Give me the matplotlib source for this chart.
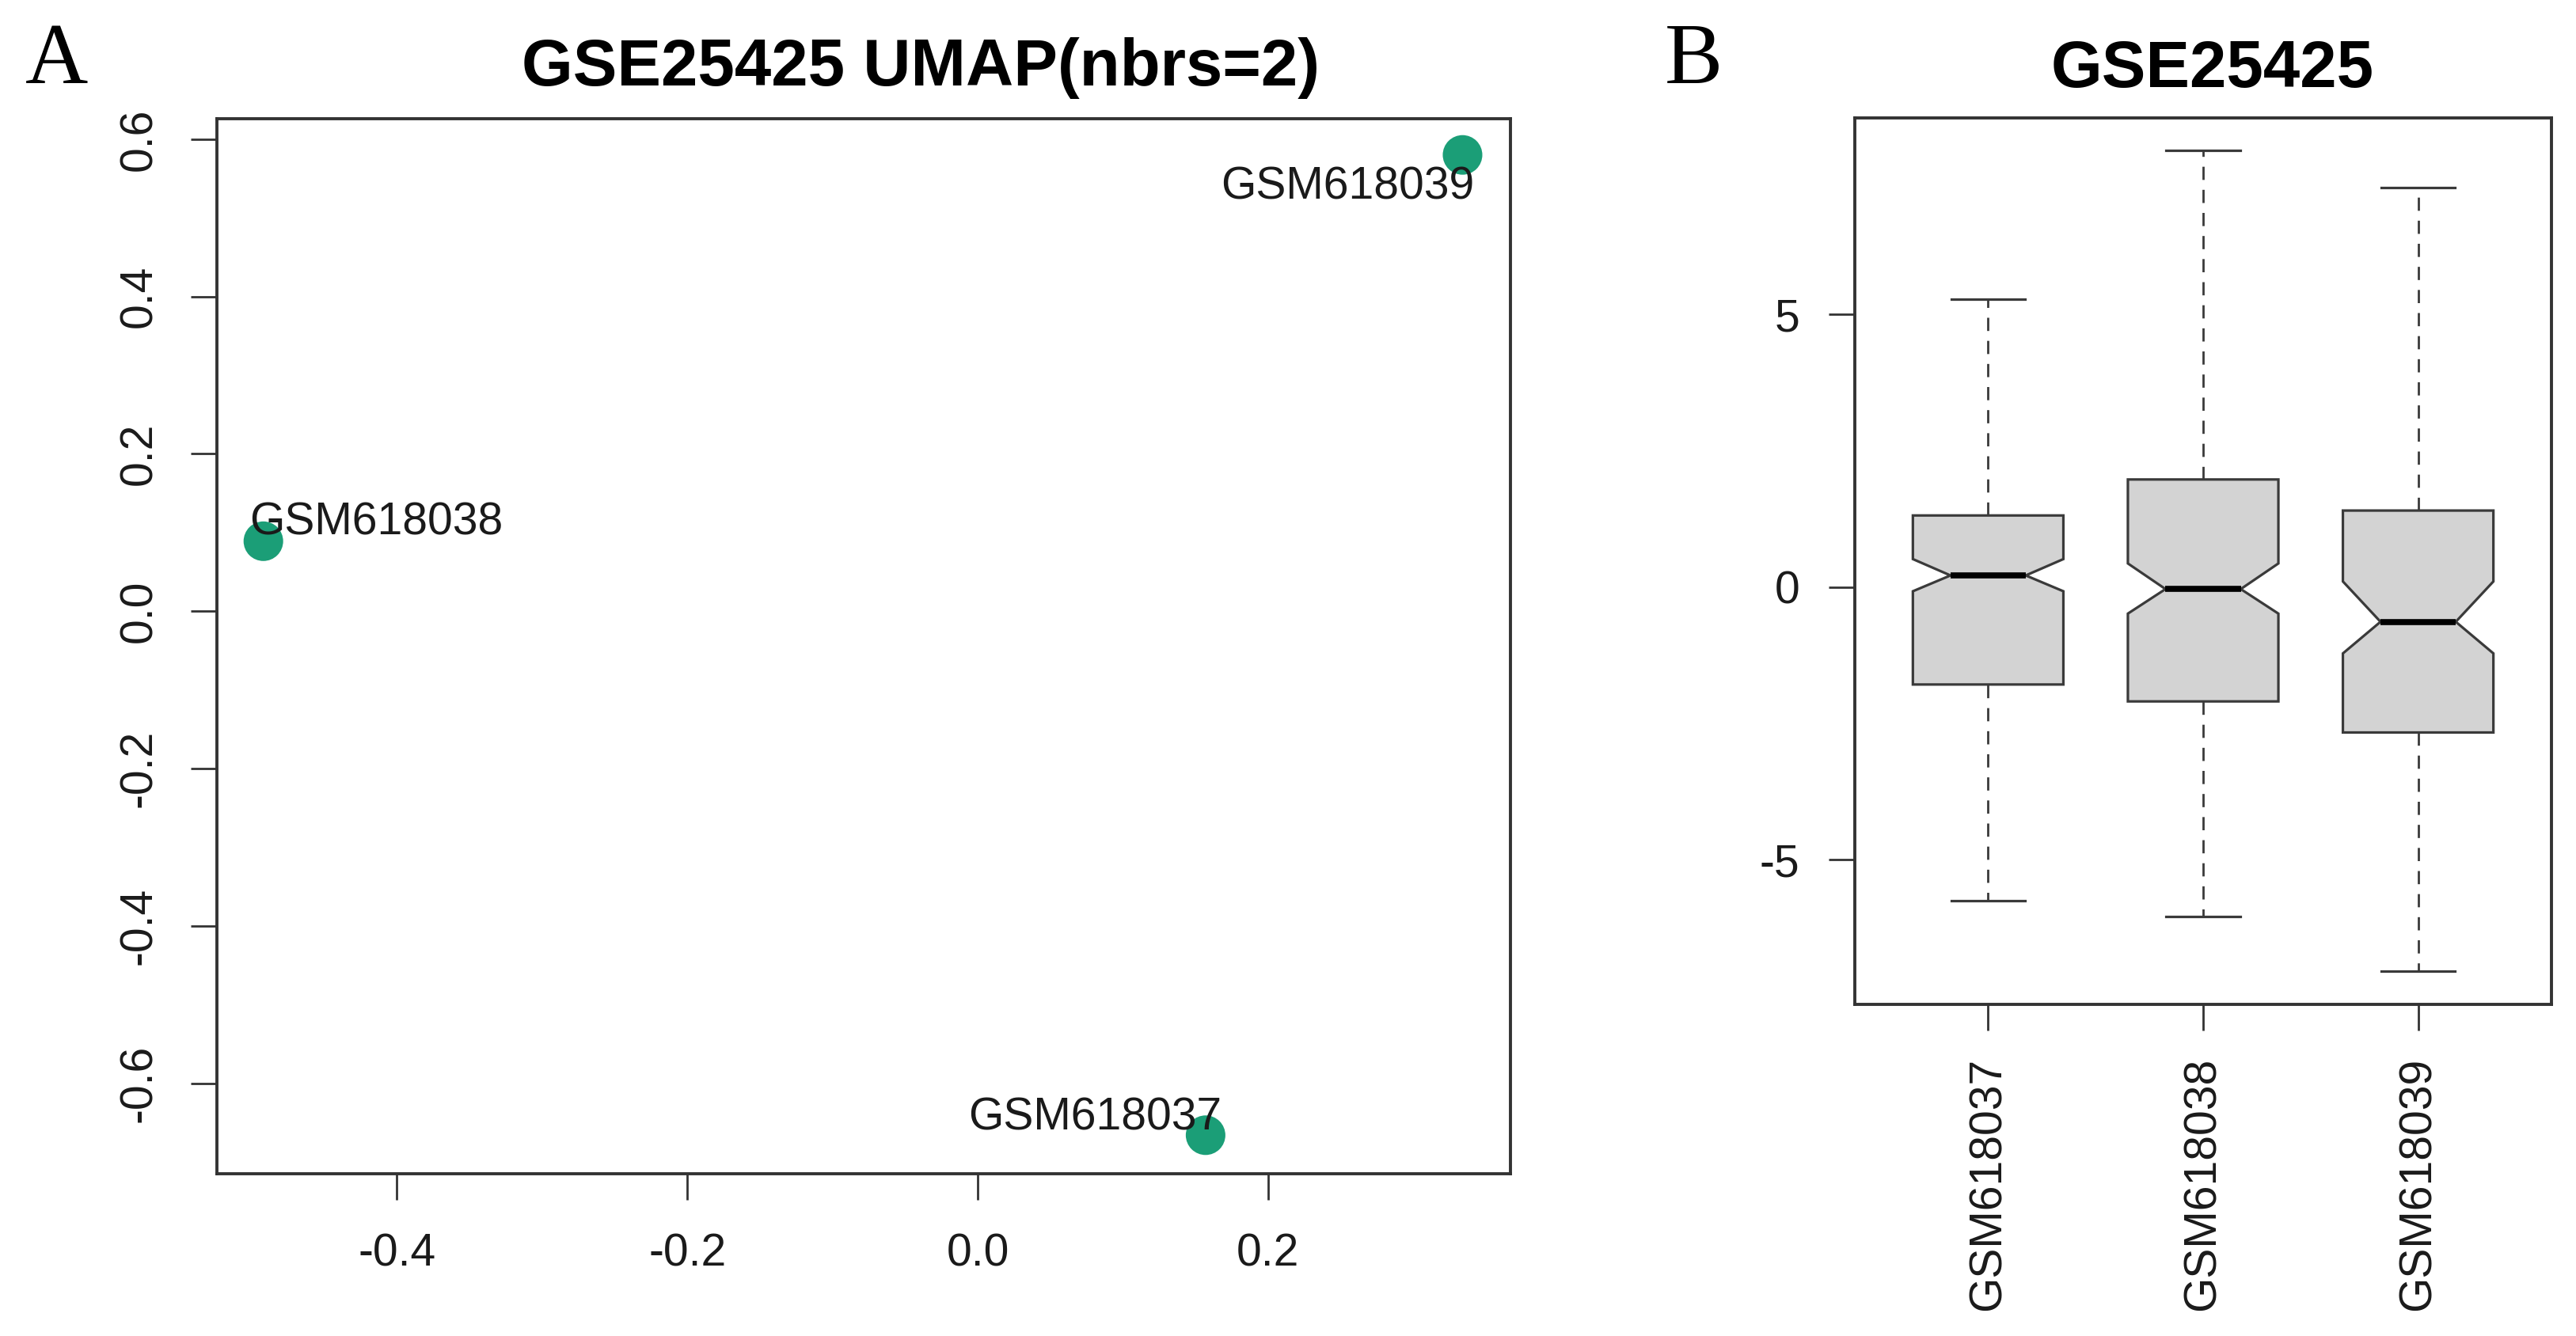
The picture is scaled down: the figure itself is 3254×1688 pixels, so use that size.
import matplotlib
matplotlib.use("Agg")
import matplotlib.pyplot as plt

plt.rcParams['axes.unicode_minus'] = False
SANS = ['Liberation Sans', 'DejaVu Sans']
SERIF = ['Liberation Serif', 'DejaVu Serif']
plt.rcParams['font.family'] = SANS

# ---------------- data ----------------
# Panel A: UMAP coordinates
samples = ["GSM618037", "GSM618038", "GSM618039"]
umap_x = [0.157, -0.492, 0.334]
umap_y = [-0.666, 0.089, 0.580]
x_ticks_a = [-0.4, -0.2, 0.0, 0.2]
y_ticks_a = [-0.6, -0.4, -0.2, 0.0, 0.2, 0.4, 0.6]

# Panel B: box statistics per sample
box_whislo = [-5.76, -6.05, -7.05]
box_q1 = [-1.79, -2.10, -2.67]
box_cilo = [-0.08, -0.49, -1.22]
box_med = [0.21, -0.04, -0.64]
box_cihi = [0.51, 0.43, 0.10]
box_q3 = [1.31, 1.97, 1.40]
box_whishi = [5.28, 8.00, 7.32]
y_ticks_b = [-5, 0, 5]

title_a = "GSE25425 UMAP(nbrs=2)"
title_b = "GSE25425"

# ---------------- figure ----------------
W, H = 3255, 1688
fig = plt.figure(figsize=(W / 100, H / 100), dpi=100)

def rect(l, r, t, b):
    return [l / W, 1 - b / H, (r - l) / W, (b - t) / H]

frame_col = '#333333'
txt_col = '#1a1a1a'

# ---------------- Panel A ----------------
axA = fig.add_axes(rect(274, 1908, 150, 1483))
axA.scatter(umap_x, umap_y, s=36 ** 2, color='#1B9E77', edgecolors='none', zorder=3)
offsets = {"GSM618037": (15, 5, 'right'),
           "GSM618038": (-13, 6, 'left'),
           "GSM618039": (11, -40, 'right')}
for name, xv, yv in zip(samples, umap_x, umap_y):
    dx, dy, ha = offsets[name]
    axA.annotate(name, (xv, yv), xytext=(dx, dy), textcoords='offset points',
                 ha=ha, va='baseline', fontsize=41, color=txt_col, zorder=4)
axA.set_xlim(-0.524, 0.367)
axA.set_ylim(-0.715, 0.626)
axA.set_xticks(x_ticks_a)
axA.set_xticklabels([f"{v:.1f}" for v in x_ticks_a])
axA.set_yticks(y_ticks_a)
axA.set_yticklabels([f"{v:.1f}" for v in y_ticks_a])
axA.tick_params(axis='both', direction='out', length=24, width=2, color=frame_col,
                labelsize=41, labelcolor=txt_col)
axA.tick_params(axis='x', pad=30)
axA.tick_params(axis='y', pad=27, labelrotation=90)
for lab in axA.get_yticklabels():
    lab.set_verticalalignment('center')
for sp in axA.spines.values():
    sp.set_linewidth(2.8)
    sp.set_color(frame_col)

# ---------------- Panel B ----------------
axB = fig.add_axes(rect(2343, 3223, 149, 1269))
stats = []
for i, name in enumerate(samples):
    stats.append(dict(label=name, whislo=box_whislo[i], q1=box_q1[i], med=box_med[i],
                      q3=box_q3[i], whishi=box_whishi[i], cilo=box_cilo[i],
                      cihi=box_cihi[i], fliers=[]))
axB.bxp(stats, positions=[1, 2, 3], widths=0.7, capwidths=0.344, shownotches=True,
        patch_artist=True, showfliers=False,
        boxprops=dict(facecolor='#D3D3D3', edgecolor='#3a3a3a', linewidth=2.3),
        whiskerprops=dict(color='#3a3a3a', linewidth=2, linestyle=(0, (6, 4.5))),
        capprops=dict(color='#3a3a3a', linewidth=2.3),
        medianprops=dict(color='black', linewidth=5.5, solid_capstyle='butt'))
axB.set_xlim(0.38, 3.62)
axB.set_ylim(-7.656, 8.60)
axB.set_yticks(y_ticks_b)
axB.set_yticklabels([str(v) for v in y_ticks_b])
axB.set_xticks([1, 2, 3])
axB.set_xticklabels(samples)
axB.tick_params(axis='both', direction='out', length=24, width=2, color=frame_col,
                labelsize=41, labelcolor=txt_col)
axB.tick_params(axis='y', pad=26)
axB.tick_params(axis='x', pad=24, labelrotation=90)
for sp in axB.spines.values():
    sp.set_linewidth(2.8)
    sp.set_color(frame_col)

# ---------------- titles and panel letters ----------------
fig.text(1163 / W, 1 - 108 / H, title_a, ha='center', va='baseline',
         fontsize=60, fontweight='bold', color='black', family=SANS)
fig.text(2795 / W, 1 - 110 / H, title_b, ha='center', va='baseline',
         fontsize=60, fontweight='bold', color='black', family=SANS)
fig.text(72 / W, 1 - 105 / H, "A", ha='center', va='baseline',
         fontsize=79, color='black', family=SERIF)
fig.text(2139 / W, 1 - 105 / H, "B", ha='center', va='baseline',
         fontsize=79, color='black', family=SERIF)

fig.savefig("out.png", dpi=100, facecolor='white')
